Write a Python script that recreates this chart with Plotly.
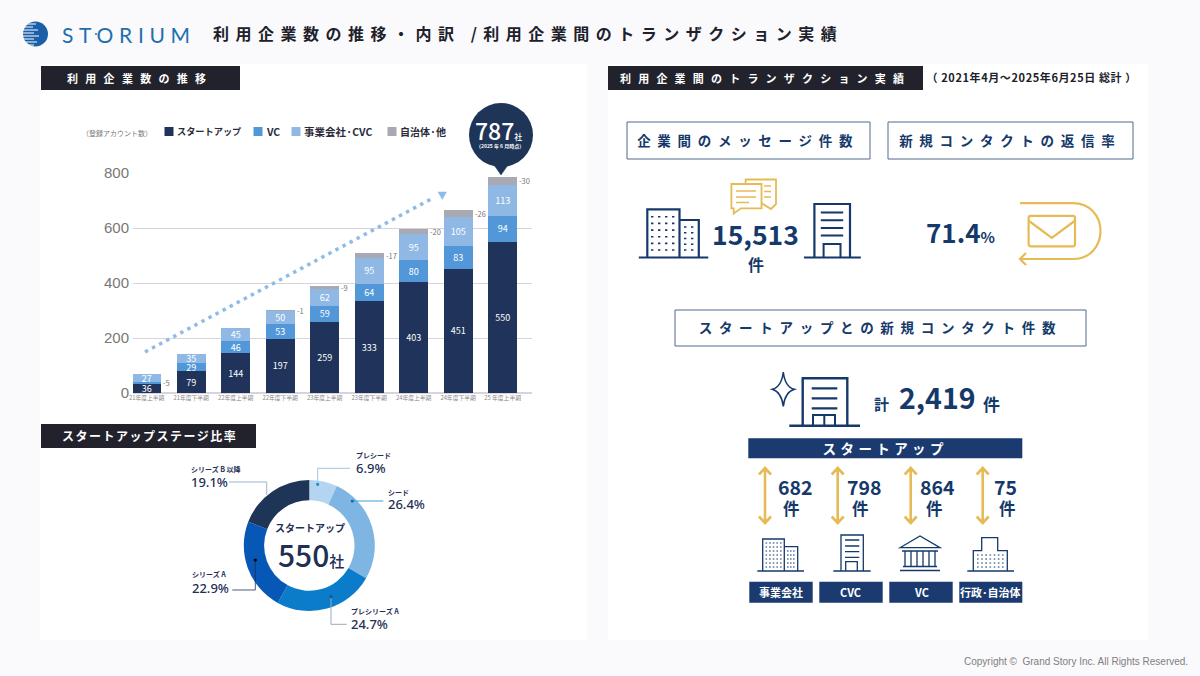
import json
import re
import plotly.graph_objects as go

W, H = 1200, 676
# ---------- data ----------
periods = ["21年度上半期", "21年度下半期", "22年度上半期", "22年度下半期", "23年度上半期",
           "23年度下半期", "24年度上半期", "24年度下半期", "25 年度上半期"]
startup = [36, 79, 144, 197, 259, 333, 403, 451, 550]
vc = [5, 29, 46, 53, 59, 64, 80, 83, 94]
vc_labels = ["", 29, 46, 53, 59, 64, 80, 83, 94]
corp = [27, 35, 45, 50, 62, 95, 95, 105, 113]
other = [0, 0, 0, 1, 9, 17, 20, 26, 30]
y_ticks = [0, 200, 400, 600, 800]

stages = ["プレシード", "シード", "プレシリーズA", "シリーズA", "シリーズB以降"]
stage_share = [6.9, 26.4, 24.7, 22.9, 19.1]

NAVY, BLUE, LIGHT, GREY = "#20335a", "#5298d8", "#8fb9e4", "#a9a9b3"
stage_colors = ["#b4d4f1", "#7fb5e3", "#0b7cc9", "#0757b6", "#1f3558"]
TXT = "#15396a"
BOX = "#1a3a70"
GOLD = "#e6bb55"
CJK = "Noto Sans CJK JP"


def fx(x):
    return x / W


def fy(y):
    return 1 - y / H


def P(d):
    out, isx = [], True
    for tok in re.findall(r"[MLCQZ]|-?\d+\.?\d*", d):
        if tok in "MLCQZ":
            out.append(tok)
            isx = True
        else:
            out.append(f"{fx(float(tok)):.5f}" if isx else f"{fy(float(tok)):.5f}")
            isx = not isx
    return " ".join(out)


shapes, annots, spacing = [], [], {}


def rect(x0, y0, x1, y1, fill="rgba(0,0,0,0)", line=None, w=1, layer="above"):
    shapes.append(dict(type="rect", xref="paper", yref="paper", x0=fx(x0), x1=fx(x1), y0=fy(y0), y1=fy(y1),
                       fillcolor=fill, line=dict(color=line or "rgba(0,0,0,0)", width=w if line else 0), layer=layer))


def circ(cx, cy, r, fill):
    shapes.append(dict(type="circle", xref="paper", yref="paper", x0=fx(cx - r), x1=fx(cx + r), y0=fy(cy - r),
                       y1=fy(cy + r), fillcolor=fill, line=dict(width=0), layer="above"))


def path(d, color=TXT, w=1.5, fill="rgba(0,0,0,0)", dash=None):
    ln = dict(color=color, width=w)
    if dash:
        ln["dash"] = dash
    shapes.append(dict(type="path", xref="paper", yref="paper", path=P(d), line=ln, fillcolor=fill, layer="above"))


def T(text, x, y, size, color=TXT, bold=True, anchor="center", family=CJK, sp=0):
    weight = bold if not isinstance(bold, bool) else (700 if bold else 400)
    if anchor == "left":
        x -= 1
    elif anchor == "right":
        x += 1
    annots.append(dict(text=text, x=fx(x), y=fy(y), xref="paper", yref="paper", showarrow=False,
                       xanchor=anchor, yanchor="middle", align=anchor, borderpad=0,
                       font=dict(family=family, size=size, color=color, weight=weight)))
    if sp:
        spacing[len(annots) - 1] = sp


def dots(x0, x1, nx, y0, y1, ny, color=TXT, w=1.5):
    d = ""
    for i in range(ny):
        y = y0 + (y1 - y0) * i / max(ny - 1, 1)
        for j in range(nx):
            x = x0 + (x1 - x0) * j / max(nx - 1, 1)
            d += f"M{x:.1f} {y:.1f} L{x + w * 1.5:.1f} {y:.1f} "
    path(d, color, w)


# ---------- background panels ----------
rect(40, 64, 587, 640, "#ffffff", layer="below")
rect(608, 64, 1148, 640, "#ffffff", layer="below")

# ---------- header ----------
circ(35.5, 34, 12.5, "#1a5fa8")
path("".join(f"M22 {y} L{x} {y} " for y, x in [(24, 36), (27, 33), (30, 38), (33, 34), (36, 39), (39, 34), (42, 37), (45, 34)]),
     "#ffffff", 1.2)
T("STORIUM", 62, 34, 21, "#1f6fb0", False, "left", "Lato", 5.7)
circ(96, 34, 1, "#1f6fb0")
circ(122, 34, 1, "#1f6fb0")
T("利用企業数の推移・内訳 /利用企業間のトランザクション実績", 213, 32.5, 16, "#20202a", True, "left", CJK, 6.5)
T("Copyright ©  Grand Story Inc. All Rights Reserved.", 1188, 661, 10, "#808080", False, "right", "Liberation Sans")

# section headers
rect(41, 66, 240, 90, "#22222c")
T("利用企業数の推移", 67, 77.5, 11, "#ffffff", True, "left", CJK, 7.3)
rect(41, 424, 256, 448, "#22222c")
T("スタートアップステージ比率", 62, 435.5, 12, "#ffffff", True, "left", CJK, 1.5)
rect(608, 66, 923, 90, "#22222c")
T("利用企業間のトランザクション実績", 620, 77.5, 11, "#ffffff", True, "left", CJK, 7.2)
T("（ 2021年4月～2025年6月25日 総計 ）", 1031, 77, 11, "#20202a", True, "center", CJK, 0.6)

# ---------- legend ----------
T("（登録アカウント数）", 82, 133, 7, "#777777", False, "left")
for x, name, c, fs in [(169, "スタートアップ", NAVY, 9.2), (258, "VC", BLUE, 10.5),
                       (296, "事業会社·CVC", LIGHT, 10.5), (392, "自治体·他", GREY, 10)]:
    rect(x - 4.5, 127, x + 4.5, 136, c)
    T(name, x + 8, 131.5, fs, "#2a2a3a", True, "left")

# ---------- trend arrow ----------
path("M145 352 L433 198", "#8fbce6", 3.5, dash="3.5px,4.5px")
path("M438 192 L446.5 192 L442.3 199.5 Z", "#8fbce6", 0.5, "#8fbce6")

# ---------- callout ----------
circ(501, 135, 32, "#1f3558")
path("M494 165 L508 165 L501 175 Z", "#1f3558", 0.5, "#1f3558")
T('787<span style="font-size:8px">社</span>', 498.5, 130, 23, "#ffffff", 500)
T("（2025 年 6 月時点）", 500, 146, 5, "#ffffff", True)

# ---------- outside labels for the thinnest segments ----------
for i, v in enumerate(other):
    if v:
        annots.append(dict(text=f"-{v}", x=periods[i], y=startup[i] + vc[i] + corp[i] + v / 2, xref="x", yref="y",
                           showarrow=False, xanchor="left", yanchor="middle", xshift=14.5,
                           font=dict(family=CJK, size=7.5, color="#777777")))
annots.append(dict(text=f"-{vc[0]}", x=periods[0], y=startup[0] + vc[0] / 2, xref="x", yref="y", showarrow=False,
                   xanchor="left", yanchor="middle", xshift=14.5, font=dict(family=CJK, size=7.5, color="#777777")))

# ---------- donut labels ----------
NV = "#1f2f55"
for name, pct, x, y1, y2 in [("プレシード", "6.9%", 355.7, 455, 468),
                             ("シード", "26.4%", 388.3, 491.7, 504.5),
                             ("プレシリーズ A", "24.7%", 350.7, 611, 624.3),
                             ("シリーズ A", "22.9%", 191.7, 574, 588),
                             ("シリーズ B 以降", "19.1%", 190.7, 469, 482.3)]:
    T(name, x, y1, 7, NV, True, "left")
    T(pct, x, y2, 13, NV, 500, "left", "Noto Sans")
path("M317.7 484.3 L317.7 468.3 L350 468.3", "#9fc4e4", 1)
circ(317.7, 484.3, 1.6, "#1f8fd0")
path("M352.3 501 L383.3 501", "#3f9fd8", 1)
circ(352.3, 501, 1.6, "#0b6fc0")
path("M331 596.7 L331 624.3 L346.7 624.3", "#9aaac0", 1)
circ(331, 596.7, 1.6, "#0b5aa8")
path("M255.3 560 L255.3 590 L232.3 590", "#1f2f55", 0.8)
circ(255.3, 560, 1.6, "#000000")
path("M229 482 L266.7 482 L266.7 495", "#9fb4c8", 1)
T("スタートアップ", 309.5, 527.7, 10, NV, True)
T('550<span style="font-size:15px">社</span>', 311, 554, 30, NV, 500, "center", CJK)

# ---------- boxes on the right ----------
for x0, x1, y0, y1, text in [(627, 870, 122, 159, "企業間のメッセージ件数"),
                             (888, 1133, 122, 159, "新規コンタクトの返信率"),
                             (675, 1086, 310, 346, "スタートアップとの新規コンタクト件数")]:
    rect(x0, y0, x1, y1, "#ffffff", "#4f6a8f", 1)
    T(text, (x0 + x1) / 2, (y0 + y1) / 2 - 1, 13.5, TXT, True, "center", CJK, 6.7)

# building with two wings
path("M638.8 257.5 L708.3 257.5", w=2.2)
path("M647.3 257.5 L647.3 209.3 L679.5 209.3 L679.5 257.5", w=2.2)
path("M679.5 220 L698.8 220 L698.8 257.5", w=2.2)
dots(651, 672, 4, 216.8, 250, 6, w=1.6)
dots(684, 691, 2, 227, 250, 5, w=1.6)
# office
path("M804 257.5 L860.8 257.5", w=2.2)
path("M814.4 257.5 L814.4 204 L850 204 L850 257.5", w=2.2)
path("M820.8 212.4 L843.2 212.4 M820.8 220.2 L843.2 220.2 M820.8 228 L843.2 228 M820.8 235.4 L843.2 235.4", w=2)
path("M823.6 257.5 L823.6 244 L840.5 244 L840.5 257.5", w=2)
# chat bubbles
path("M745.6 184 L745.6 179.5 L776 179.5 L776 204 L771 209 L761.5 203", GOLD, 1.8)
path("M731.4 184 L761.5 184 L761.5 208.3 L741 208.3 L733.7 213.4 L733.7 208.3 L731.4 208.3 Z", GOLD, 1.8)
path("M736 191 L756 191 M736 197 L756 197 M736 202.5 L749 202.5 M764 186 L771 186 M764 191.5 L771 191.5 M764 197 L771 197", GOLD, 1.3)

T("15,513", 755.5, 233.5, 26.5, TXT)
T("件", 755.5, 264, 16, TXT)
T('71.4<span style="font-size:15px">%</span>', 960.5, 232, 26, TXT)

# envelope + return arrow
path("M1031 215.8 L1073 215.8 Q1075 215.8 1075 218 L1075 244 Q1075 246.3 1073 246.3 L1031 246.3 Q1028.6 246.3 1028.6 244 L1028.6 218 Q1028.6 215.8 1031 215.8 Z", GOLD, 2.2)
path("M1029 221 L1051.8 238 L1074.5 221", GOLD, 2.2)
path("M1020 203.2 L1073 203.2 C1090 203.2 1100.5 216 1100.5 231 C1100.5 246 1090 259 1073 259 L1020 259 M1026 253 L1020 259 L1026 265", GOLD, 2.2)

# startup contact block
path("M783.3 372 Q785 387 794.3 389.3 Q785 392 783.3 406.5 Q781.5 392 772.3 389.3 Q781.5 387 783.3 372 Z", TXT, 1.5)
path("M789.3 425.7 L860 425.7", w=2.4)
path("M802.7 425.7 L802.7 378.3 L847.3 378.3 L847.3 425.7", w=2.4)
path("M811.7 388.3 L837.3 388.3 M811.7 398.3 L837.3 398.3 M811.7 408.3 L837.3 408.3", w=2.2)
path("M813 425.7 L813 415 L835 415 L835 425.7 M824.3 415 L824.3 425.7", w=2)
T("計", 881.7, 403, 15, TXT)
T("2,419", 937.5, 397, 28.5, TXT)
T("件", 991.7, 403, 17, TXT)
rect(748.3, 438.3, 1022.3, 458.3, BOX)
T("スタートアップ", 885.3, 448, 13.5, "#ffffff", True, "center", CJK, 4.4)

for ax, num, nx, kx in [(765, "682", 795, 791.7), (837.7, "798", 864.3, 860),
                        (910.7, "864", 937.7, 934.3), (982.7, "75", 1005.3, 1007.3)]:
    path(f"M{ax} 468.5 L{ax} 522.5 M{ax - 6} 474.5 L{ax} 468 L{ax + 6} 474.5 M{ax - 6} 516.5 L{ax} 523 L{ax + 6} 516.5", GOLD, 2.6)
    T(num, nx, 486, 19.5, TXT)
    T("件", kx, 508.3, 16.5, TXT)

for x0, x1, name in [(749.3, 812.7, "事業会社"), (819.3, 882.7, "CVC"), (889.3, 952.7, "VC"), (959.3, 1022.3, "行政･自治体")]:
    rect(x0, 581.7, x1, 602.7, BOX)
    T(name, (x0 + x1) / 2, 591.7, 11, "#ffffff", True)

# small icons
path("M757.3 571 L804 571", w=1.3)
path("M762.7 571 L762.7 539 L784.3 539 L784.3 571 M784.3 546.7 L797.7 546.7 L797.7 571", w=1.3)
dots(765.5, 780, 5, 543, 567, 7, w=1.1)
dots(787, 793, 3, 551, 567, 5, w=1.1)
path("M833.3 571 L870.7 571 M841 571 L841 535 L863.3 535 L863.3 571", w=1.3)
path("M845 540 L859.3 540 M845 546 L859.3 546 M845 551.7 L859.3 551.7 M845 557.3 L859.3 557.3", w=1.3)
path("M845.7 571 L845.7 561.7 L857.3 561.7 L857.3 571", w=1.3)
path("M900 547.7 L920 536 L940 547.7 Z", w=1.3)
path("M902 551 L938 551 M905 551 L905 566 M911 551 L911 566 M917 551 L917 566 M923 551 L923 566 M929 551 L929 566 M935 551 L935 566", w=1.3)
path("M903 566.5 L937 566.5 M900 570.5 L940 570.5", w=1.6)
path("M967.3 571 L1014 571", w=1.3)
path("M973.3 571 L973.3 550.7 L981.7 550.7 L981.7 537.7 L997.7 537.7 L997.7 550.7 L1007.3 550.7 L1007.3 571", w=1.3)
dots(977, 1002, 7, 555, 567, 4, w=1.1)

# ---------- traces ----------
fig = go.Figure()
bar_font = dict(family=CJK, size=9, color="#ffffff")
for name, values, labels, color in [("スタートアップ", startup, startup, NAVY), ("VC", vc, vc_labels, BLUE),
                                    ("事業会社·CVC", corp, corp, LIGHT), ("自治体·他", other, [""] * 9, GREY)]:
    fig.add_trace(go.Bar(x=periods, y=values, name=name, marker=dict(color=color, line=dict(width=0)),
                         text=labels, textposition="inside", insidetextanchor="middle", textangle=0,
                         constraintext="none", cliponaxis=False, insidetextfont=bar_font, showlegend=False))

cx, cy, R = 309.3, 545.5, 65.5
fig.add_trace(go.Pie(labels=stages, values=stage_share, sort=False, direction="clockwise", rotation=0, hole=0.69,
                     textinfo="none", marker=dict(colors=stage_colors, line=dict(width=0)), showlegend=False,
                     domain=dict(x=[fx(cx - R), fx(cx + R)], y=[fy(cy + R), fy(cy - R)])))

fig.update_layout(
    width=W, height=H, margin=dict(l=0, r=0, t=0, b=0, pad=0, autoexpand=False), autosize=False,
    paper_bgcolor="#faf9fc", plot_bgcolor="rgba(0,0,0,0)",
    barmode="stack", bargap=0.348, shapes=shapes, annotations=annots,
    font=dict(family=CJK),
    xaxis=dict(domain=[fx(133), fx(532)], range=[-0.308, 8.66], type="category", showgrid=False, zeroline=False,
               ticks="", tickangle=0, tickfont=dict(family=CJK, size=5.8, color="#888888")),
    yaxis=dict(domain=[fy(393), fy(173)], range=[0, 800], tickvals=y_ticks, showgrid=True, gridcolor="#d8d3dd",
               gridwidth=1, zeroline=True, zerolinecolor="#d8d3dd", ticks="", ticklabelstandoff=3,
               tickfont=dict(family="Liberation Sans", size=15, color="#777777")),
)

post = """
document.documentElement.style.overflow='hidden';
document.body.style.margin='0';
var sp=%s;
Object.keys(sp).forEach(function(k){
  var t=document.querySelector('.annotation[data-index="'+k+'"] .annotation-text');
  if(t){t.style.letterSpacing=sp[k]+'px';}
});
""" % json.dumps(spacing)
fig.write_html("out.html", post_script=post, config=dict(displayModeBar=False, responsive=False))
